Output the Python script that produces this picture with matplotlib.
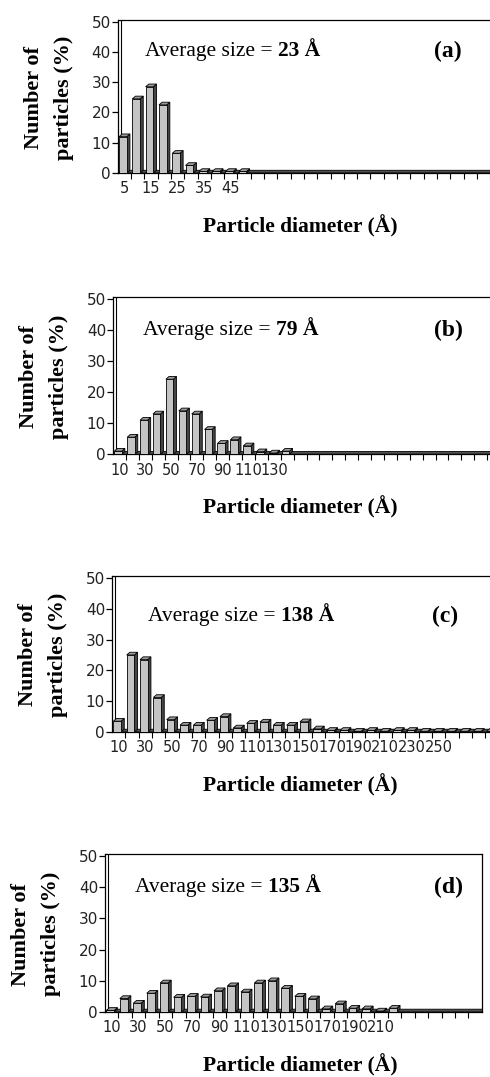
import matplotlib
matplotlib.use("Agg")
import matplotlib.pyplot as plt
from matplotlib.patches import Polygon

# ---------------- data ----------------
diam_a = list(range(5, 150, 5))            # 29 categories
pct_a = [12, 24.5, 28.5, 22.5, 6.5, 2.5, 0.5, 0.5, 0.5, 0.5,
         0, 0, 0, 0, 0, 0, 0, 0, 0, 0, 0, 0, 0, 0, 0, 0, 0, 0, 0]
labels_a = [5, 15, 25, 35, 45]

diam_b = list(range(10, 310, 10))          # 30 categories
pct_b = [1, 5.5, 11, 13, 24.2, 14, 13, 8, 3.5, 4.7, 2.7, 0.8, 0.4, 1,
         0, 0, 0, 0, 0, 0, 0, 0, 0, 0, 0, 0, 0, 0, 0, 0]
labels_b = [10, 30, 50, 70, 90, 110, 130]

diam_c = list(range(10, 300, 10))          # 29 categories
pct_c = [3.5, 25, 23.5, 11.2, 4, 2.2, 2.2, 3.8, 5, 1.3, 2.8, 3.2, 2.2, 2.2,
         3.3, 1, 0.5, 0.5, 0.2, 0.5, 0.2, 0.5, 0.5, 0.2, 0.2, 0.2, 0.2, 0.2, 0.2]
labels_c = [10, 30, 50, 70, 90, 110, 130, 150, 170, 190, 210, 230, 250]

diam_d = list(range(10, 290, 10))          # 28 categories
pct_d = [0.5, 4.3, 2.8, 6, 9.3, 4.7, 5, 4.8, 6.8, 8.4, 6.4, 9.3, 10, 7.6,
         5, 4.2, 1, 2.6, 1.2, 1, 0.3, 1.2, 0, 0, 0, 0, 0, 0]
labels_d = [10, 30, 50, 70, 90, 110, 130, 150, 170, 190, 210]

avg_sizes = ["23", "79", "138", "135"]
tags = ["(a)", "(b)", "(c)", "(d)"]
yticks = [0, 10, 20, 30, 40, 50]

# ---------------- layout (pixels) ----------------
W, H = 490, 1077
fig = plt.figure(figsize=(W / 100, H / 100), dpi=100)

layout = [
    dict(left=117.7, y50=21.7, y0=173.0, slot=13.3, rspine=False, tx=145, ty=56, tagx=448),
    dict(left=113.0, y50=299.3, y0=454.3, slot=12.9, rspine=False, tx=143, ty=335, tagx=448),
    dict(left=112.0, y50=578.0, y0=732.0, slot=13.33, rspine=False, tx=148, ty=621, tagx=445),
    dict(left=105.0, y50=856.0, y0=1012.0, slot=13.46, rspine=True, tx=135, ty=892, tagx=448),
]
datasets = [(diam_a, pct_a, labels_a), (diam_b, pct_b, labels_b),
            (diam_c, pct_c, labels_c), (diam_d, pct_d, labels_d)]

SERIF = "Liberation Serif"
SANS = "DejaVu Sans"
YTOP = 50.6
FRONT = "#c4c4c4"
SIDE = "#454545"
TOPC = "#9a9a9a"
DX = 0.24      # depth in category units
DY = 0.9       # depth in value units
FW = 0.58      # front face width

def fx(px):
    return px / W

def fy(py):
    return 1 - py / H

for k, (lay, (diam, pct, labs)) in enumerate(zip(layout, datasets)):
    n = len(diam)
    unit = (lay["y0"] - lay["y50"]) / 50.0
    top_px = lay["y0"] - YTOP * unit
    width_px = n * lay["slot"]
    ax = fig.add_axes([fx(lay["left"]), fy(lay["y0"]), width_px / W,
                       (lay["y0"] - top_px) / H])
    ax.set_xlim(-0.5, n - 0.5)
    ax.set_ylim(0, YTOP)
    ax.patch.set_alpha(0)

    # floor
    floor = Polygon([(-0.5, 0), (n - 0.5, 0), (n - 0.5 + DX, DY), (-0.5 + DX, DY)],
                    closed=True, facecolor="#505050", edgecolor="black", lw=0.6,
                    zorder=1, clip_on=True)
    ax.add_patch(floor)
    # inner wall line
    ax.plot([-0.5 + DX, -0.5 + DX], [DY, YTOP], color="black", lw=0.8, zorder=1)

    xs = list(range(n))
    fl = [x - 0.4 for x in xs]
    vals = [v if v > 0 else 0 for v in pct]
    ax.bar([x - 0.4 + FW / 2 for x in xs], vals, width=FW, color=FRONT,
           edgecolor="black", lw=0.6, zorder=3)
    for x0, v in zip(fl, pct):
        if v <= 0:
            continue
        xr = x0 + FW
        side = Polygon([(xr, 0), (xr + DX, DY), (xr + DX, v + DY), (xr, v)],
                       closed=True, facecolor=SIDE, edgecolor="black", lw=0.6, zorder=2)
        top = Polygon([(x0, v), (xr, v), (xr + DX, v + DY), (x0 + DX, v + DY)],
                      closed=True, facecolor=TOPC, edgecolor="black", lw=0.6, zorder=4)
        ax.add_patch(side)
        ax.add_patch(top)

    # spines
    for s in ["left", "top", "bottom"]:
        ax.spines[s].set_linewidth(0.9)
        ax.spines[s].set_color("black")
    ax.spines["right"].set_visible(lay["rspine"])
    ax.spines["right"].set_linewidth(0.9)

    ax.set_yticks(yticks)
    ax.set_yticklabels([str(t) for t in yticks], fontsize=11, family=SANS, color="#222222")
    ax.tick_params(axis="y", direction="out", length=4, width=0.9, pad=1)

    pos = [diam.index(l) for l in labs]
    ax.set_xticks(pos)
    ax.set_xticklabels([str(l) for l in labs], fontsize=10.5, family=SANS, color="#222222")
    ax.tick_params(axis="x", which="major", length=0, pad=6)
    ax.set_xticks([i + 0.5 for i in range(n - 1)], minor=True)
    ax.tick_params(axis="x", which="minor", direction="out", length=4, width=0.8)

    # annotations
    t1 = fig.text(fx(lay["tx"]), fy(lay["ty"]), "Average size = ", family=SERIF,
                  fontsize=15.5, va="baseline", ha="left")
    ax.annotate(avg_sizes[k] + " Å", xy=(1, 0), xycoords=t1, family=SERIF,
                fontsize=15.5, fontweight="bold", va="bottom", ha="left",
                annotation_clip=False)
    fig.text(fx(lay["tagx"]), fy(lay["ty"] + 1), tags[k], family=SERIF, fontsize=17,
             fontweight="bold", va="baseline", ha="center")

    # axis labels
    yc = (lay["y0"] + lay["y50"]) / 2
    fig.text(fx(lay["left"] - 84), fy(yc), "Number of", family=SERIF, fontsize=16,
             fontweight="bold", rotation=90, va="center", ha="center")
    fig.text(fx(lay["left"] - 54), fy(yc), "particles (%)", family=SERIF, fontsize=16,
             fontweight="bold", rotation=90, va="center", ha="center")
    fig.text(fx(300), fy(lay["y0"] + 53), "Particle diameter (Å)", family=SERIF,
             fontsize=15.5, fontweight="bold", va="center", ha="center")

fig.savefig("out.png", dpi=100)
